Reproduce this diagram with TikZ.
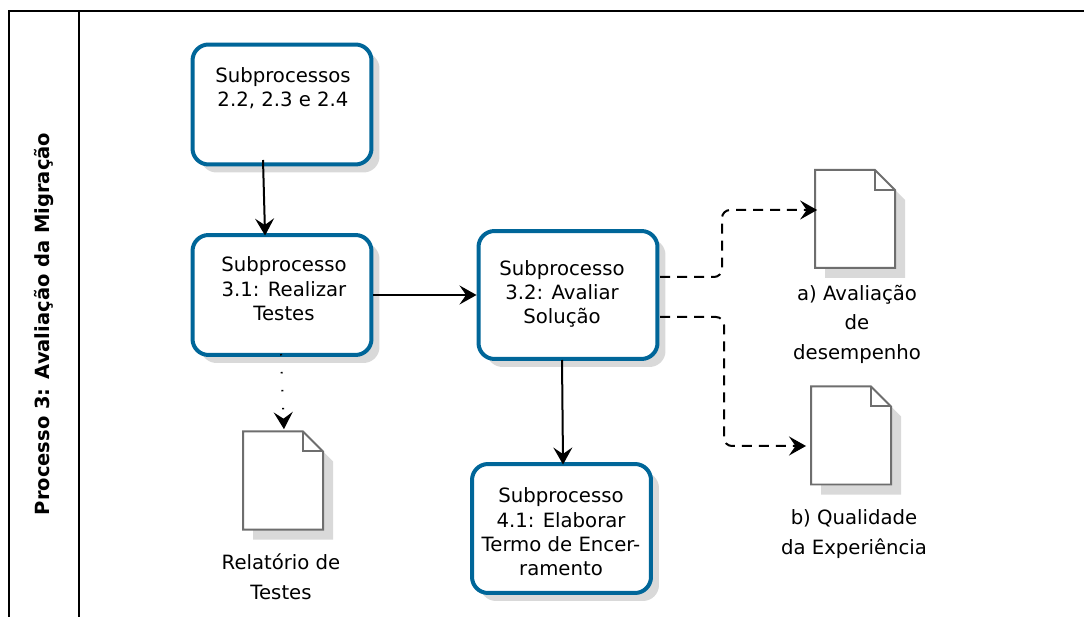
\documentclass[tikz,border=0pt]{standalone}
\usepackage{fontspec}
\setmainfont{DejaVu Sans}
\usetikzlibrary{arrows.meta}
\definecolor{boxblue}{HTML}{006699}
\definecolor{shadegray}{HTML}{D9D9D9}
\definecolor{docgray}{HTML}{6E6E6E}
\tikzset{
  boxshade/.style={rectangle, rounded corners=0.32cm, fill=shadegray, minimum width=3.58cm, minimum height=#1, inner sep=0pt},
  procbox/.style={rectangle, rounded corners=0.32cm, draw=boxblue, line width=0.08cm, fill=white, minimum width=3.58cm, minimum height=#1, inner sep=0pt},
  boxtext/.style={align=center, font=\fontsize{11.2}{13.9}\selectfont, inner sep=0pt},
  doctext/.style={align=center, font=\fontsize{11.2}{16.8}\selectfont, inner sep=0pt},
  sidetext/.style={rotate=90, font=\fontsize{11.1}{13}\selectfont\bfseries, inner sep=0pt},
  docarea/.style={rectangle, minimum width=1.6cm, minimum height=1.96cm, inner sep=0pt},
  frameline/.style={line width=0.04cm},
  link/.style={line width=0.04cm, -{Stealth[length=0.34cm, width=0.38cm, inset=0.13cm]}},
  deeplink/.style={link, shorten >=-0.05cm},
  dashlink/.style={link, dash pattern=on 0.2cm off 0.14cm, rounded corners=0.16cm},
  dotlink/.style={link, dash pattern=on 0.03cm off 0.33cm, shorten >=0.04cm}
}
% page of a document, centre at #2, connectors end on node #1
\newcommand{\docnode}[2]{
  \begin{scope}[shift={#2}]
    \fill[shadegray] (-30,-39) -- (30,-39) -- (50,-19) -- (50,59) -- (-30,59) -- cycle;
    \draw[docgray, fill=white, line width=0.04cm] (-40,-49) -- (20,-49) -- (40,-29) -- (40,49) -- (-40,49) -- cycle;
    \draw[docgray, line width=0.04cm] (20,-49) -- (20,-29) -- (40,-29);
  \end{scope}
  \node[docarea] (#1) at #2 {};
}
\begin{document}
\begin{tikzpicture}[x=0.02cm, y=-0.02cm]
\useasboundingbox (0,0) rectangle (1084,617);

\draw[frameline] (9,617) -- (9,11) -- (1084,11);
\draw[frameline] (79,11) -- (79,617);
\node[sidetext] (side) at (44,324) {Processo 3: Avaliação da Migração};

\node[boxshade=2.4cm] (s1) at (290,112.5) {};
\node[boxshade=2.4cm] (s2) at (290,303) {};
\node[boxshade=2.56cm] (s3) at (576,303) {};
\node[boxshade=2.58cm] (s4) at (569.5,536.5) {};

\node[procbox=2.4cm] (p22) at (282,104.5) {};
\node[procbox=2.4cm] (p31) at (282,295) {};
\node[procbox=2.56cm] (p32) at (568,295) {};
\node[procbox=2.58cm] (p41) at (561.5,528.5) {};

\node[boxtext] (t22) at (283,88) {Subprocessos\\2.2, 2.3 e 2.4};
\node[boxtext] (t31) at (284,289) {Subprocesso\\3.1: Realizar\\Testes};
\node[boxtext] (t32) at (562,294) {Subprocesso\\3.2: Avaliar\\Solução};
\node[boxtext] (t41) at (561,532) {Subprocesso\\4.1: Elaborar\\Termo de Encer-\\ramento};

\docnode{doca}{(855,219)}
\docnode{docb}{(851,435.5)}
\docnode{docc}{(283,480.5)}

\node[doctext] (ta) at (857,324) {a) Avaliação\\de\\desempenho};
\node[doctext] (tb) at (854,534) {b) Qualidade\\da Experiência};
\node[doctext] (tc) at (281,577) {Relatório de\\Testes};

\coordinate (c1) at (660,277);
\coordinate (c2) at (722,277);
\coordinate (c3) at (722,210);
\coordinate (c4) at (660,317);
\coordinate (c5) at (724,317);
\coordinate (c6) at (724,446);
\coordinate (c7) at (806,446);

\draw[deeplink] (263,160) -- (p31.north -| 265,0);
\draw[link] (p31.east |- 0,295) -- (p32.west |- 0,295);
\draw[deeplink] (562,360) -- (p41.north -| 563,0);
\draw[dashlink, deeplink] (c1) -- (c2) -- (c3) -- (c3 -| doca.west);
\draw[dashlink] (c4) -- (c5) -- (c6) -- (c7);
\draw[dotlink] (281,354) -- (docc.north -| 284,0);
\end{tikzpicture}
\end{document}
